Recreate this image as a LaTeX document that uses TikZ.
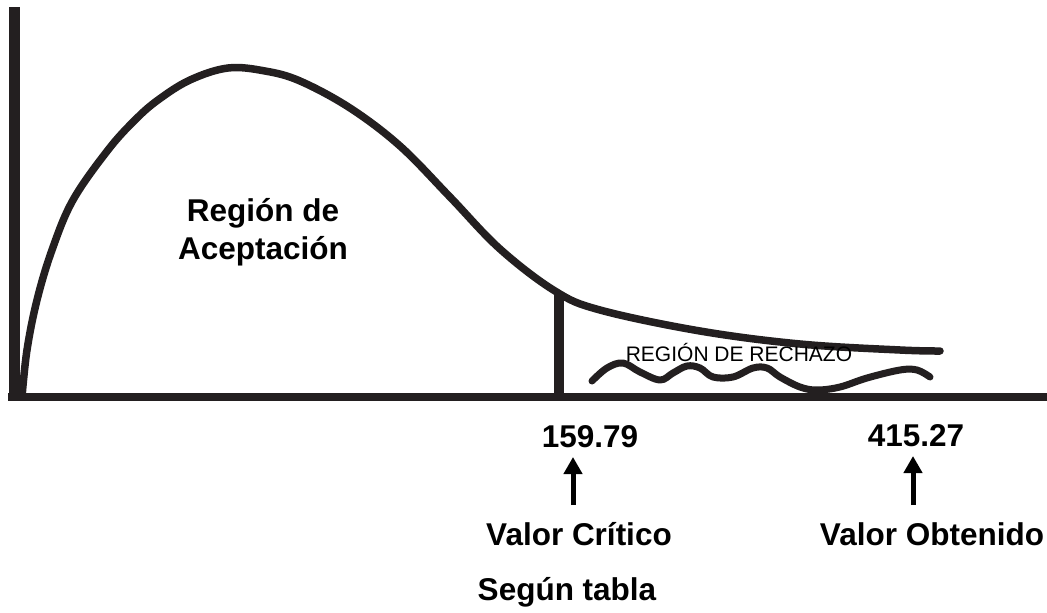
\documentclass[tikz,border=0pt]{standalone}
\usepackage{fontspec}
\setmainfont{Liberation Sans}
\usetikzlibrary{arrows.meta}
\definecolor{ink}{HTML}{231F20}
\tikzset{
  axisline/.style={draw=ink, line width=8pt},
  curveline/.style={draw=ink, line width=7.5pt, line cap=round, line join=round},
  bigtxt/.style={font=\fontsize{31.5}{38}\selectfont\bfseries, inner sep=0pt, anchor=base, align=center},
  smalltxt/.style={font=\fontsize{21}{24}\selectfont, inner sep=0pt, anchor=base},
  uparrow/.style={draw=black, line width=5pt, -{Triangle[width=18pt,length=17pt]}}
}
\begin{document}
\begin{tikzpicture}[x=1pt,y=-1pt]
\useasboundingbox[fill=white] (0,0) rectangle (1047,613);
% axes
\coordinate (ytop) at (14,7);
\coordinate (ybot) at (14,401);
\coordinate (xbeg) at (8,397);
\coordinate (xend) at (1047,397);
\draw[axisline, line width=11pt] (ytop) -- (ybot);
\draw[axisline] (xbeg) -- (xend);
% density curve
\draw[curveline] plot[smooth, tension=0.6] coordinates {
 (22,397) (27,350) (37,300) (52,250) (73,200) (108,150) (135,120) (158,100)
 (190,80) (228,68) (265,71) (300,81) (350,108) (400,146) (450,197) (500,249)
 (555,291) (600,310) (700,331) (800,344) (900,350) (940,351)};
% critical line
\coordinate (ctop) at (559,294);
\coordinate (cbot) at (559,397);
\draw[axisline, line width=10pt] (ctop) -- (cbot);
% wavy line
\draw[curveline, line width=7pt] plot[smooth, tension=0.6] coordinates {
 (592,381) (607,368) (623,363) (640,372) (660,380) (673,373) (687,366)
 (700,368) (713,377) (733,377) (753,368) (767,368) (780,377) (800,387)
 (817,390) (840,387) (867,378) (900,370) (917,370) (930,377)};
% texts
\node[smalltxt] (rech) at (739,361) {REGIÓN DE RECHAZO};
\node[bigtxt] (acep) at (263,259) {Región de\\Aceptación};
\node[bigtxt] (v1) at (590,447) {159.79};
\node[bigtxt] (v2) at (916,446) {415.27};
\node[bigtxt] (vc) at (579,545) {Valor Crítico};
\node[bigtxt] (vo) at (932,545) {Valor Obtenido};
\node[bigtxt] (st) at (567,600) {Según tabla};
% arrows
\coordinate (a1s) at (573,505);
\coordinate (a1e) at (573,457);
\coordinate (a2s) at (913,505);
\coordinate (a2e) at (913,456);
\draw[uparrow] (a1s) -- (a1e);
\draw[uparrow] (a2s) -- (a2e);
\end{tikzpicture}
\end{document}
